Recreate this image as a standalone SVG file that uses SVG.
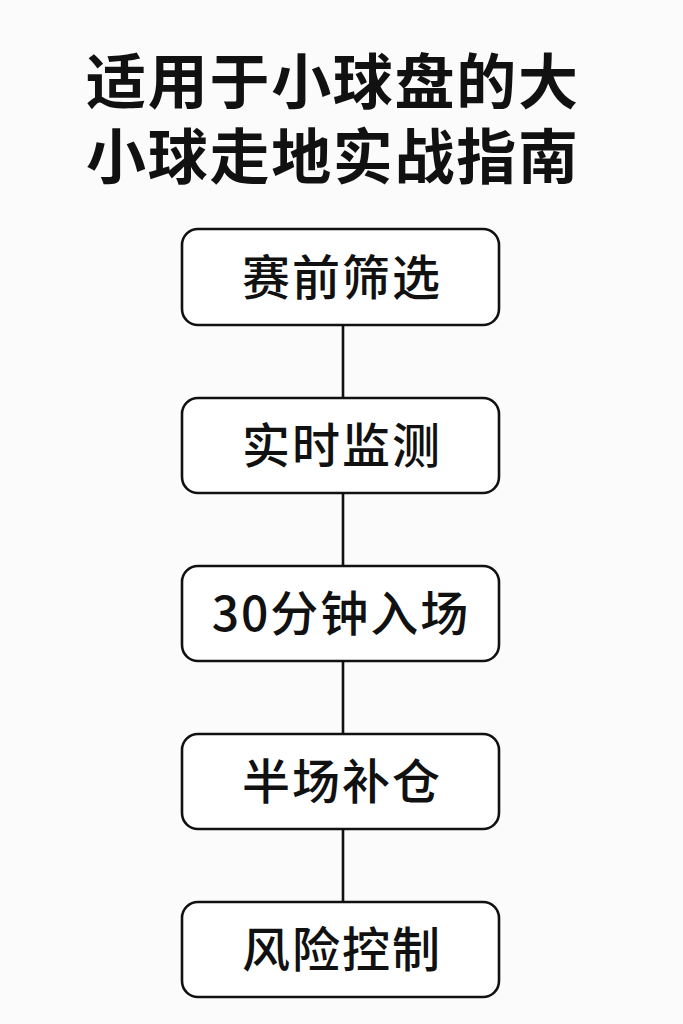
<svg xmlns="http://www.w3.org/2000/svg" width="683" height="1024" viewBox="0 0 683 1024">
<style>
.title{font-family:"Noto Sans CJK SC","Noto Sans",sans-serif;font-size:60px;font-weight:700;fill:#111;}
.box{fill:#fff;stroke:#111;stroke-width:2.6;}
.lbl{font-family:"Noto Sans CJK SC","Noto Sans",sans-serif;font-size:48px;font-weight:500;fill:#111;text-anchor:middle;letter-spacing:2px;}
.conn{stroke:#111;stroke-width:2.6;fill:none;}
</style>
<rect width="683" height="1024" fill="#fbfbfb"/>
<g id="title">
<text class="title" x="86" y="104" textLength="492" lengthAdjust="spacing">适用于小球盘的大</text>
<text class="title" x="86" y="179" textLength="492" lengthAdjust="spacing">小球走地实战指南</text>
</g>
<g id="connectors">
<line class="conn" x1="343" y1="325" x2="343" y2="398"/>
<line class="conn" x1="343" y1="493" x2="343" y2="566"/>
<line class="conn" x1="343" y1="661" x2="343" y2="734"/>
<line class="conn" x1="343" y1="829" x2="343" y2="902"/>
</g>
<g id="n1"><rect class="box" x="182" y="229" width="317" height="96" rx="16"/><text class="lbl" x="342" y="295">赛前筛选</text></g>
<g id="n2"><rect class="box" x="182" y="398" width="317" height="95" rx="16"/><text class="lbl" x="342" y="463">实时监测</text></g>
<g id="n3"><rect class="box" x="182" y="566" width="317" height="95" rx="16"/><text class="lbl" x="341" y="631">30分钟入场</text></g>
<g id="n4"><rect class="box" x="182" y="734" width="317" height="95" rx="16"/><text class="lbl" x="342" y="799">半场补仓</text></g>
<g id="n5"><rect class="box" x="182" y="902" width="317" height="95" rx="16"/><text class="lbl" x="342" y="967">风险控制</text></g>
</svg>
